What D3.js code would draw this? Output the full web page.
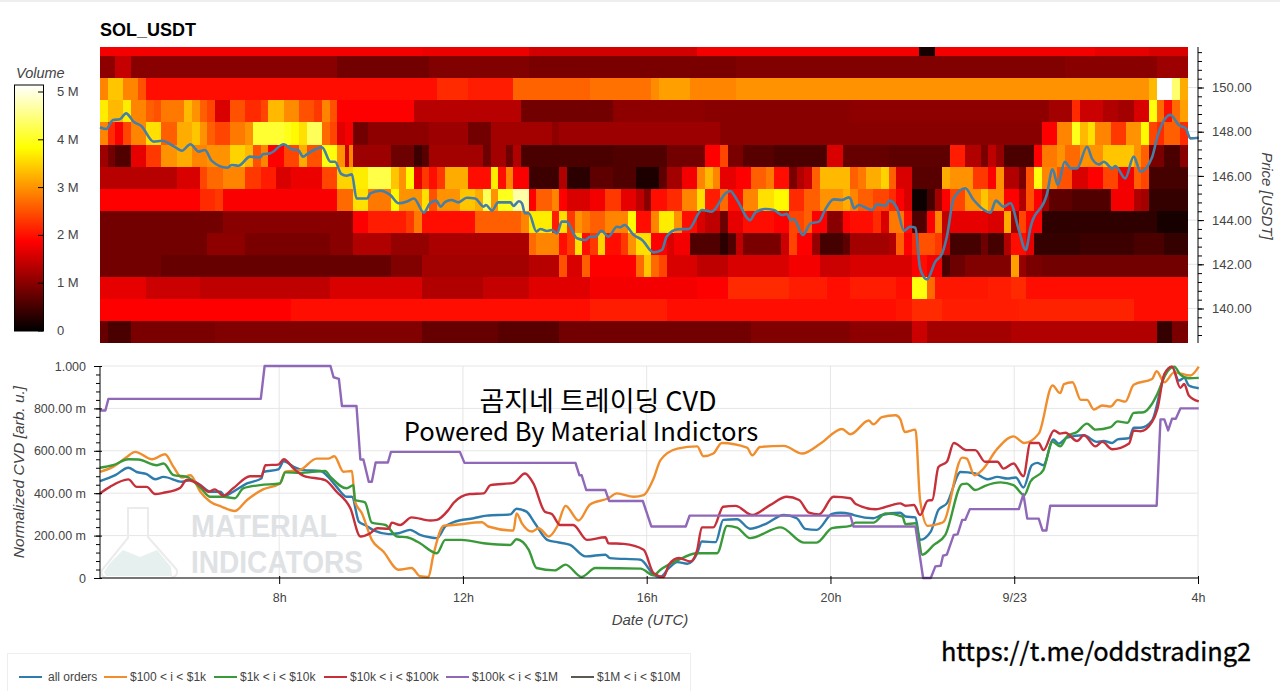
<!DOCTYPE html>
<html>
<head>
<meta charset="utf-8">
<script src="https://cdn.jsdelivr.net/npm/d3@7"></script>
<style>
  html, body { margin: 0; padding: 0; background: #fff; }
  svg { display: block; font-family: "Liberation Sans", sans-serif; }
  .tick text { fill: #444; font-size: 13px; }
  .overlay { fill: #000; font-family: "Noto Sans CJK KR", "Noto Sans", sans-serif; }
</style>
</head>
<body>
<svg id="chart" width="1280" height="691"></svg>
<script>
// volume per 1 USD price band, [first 10 minute bin, volume in M], top band first
const bandEdges = [151.85, 151.43, 150.42, 149.42, 148.42, 147.42, 146.42, 145.42, 144.42, 143.42, 142.42, 141.42, 140.42, 139.42, 138.45];
const band151 = [[0,1.8],[42,1.75],[56,1.55],[78,1.8],[107,0.15],[109,1.8],[130,1.7],[137,1.6]];
const band150 = [[0,1.05],[2,1.45],[4,1.0],[31,0.85],[43,0.95],[56,0.9],[83,0.95],[126,1.0],[138,1.15]];
const band149 = [[0,2.9],[1,3.4],[3,2.9],[5,2.5],[6,1.95],[44,2.2],[48,2.1],[54,2.65],[64,2.75],[72,2.95],[73,3.1],[77,2.9],[83,3.0],[137,3.3],[138,5.15],[140,4.4],[141,3.2]];
const band148 = [[0,3.7],[1,3.3],[3,3.7],[4,2.9],[6,2.6],[7,2.5],[8,2.8],[11,3.3],[12,3.0],[13,2.6],[14,2.4],[15,1.6],[17,2.5],[19,2.2],[21,2.4],[22,3.3],[24,2.95],[26,2.5],[28,2.3],[29,2.9],[30,2.5],[31,1.9],[41,1.35],[55,0.85],[67,1.05],[79,1.0],[98,1.05],[124,1.2],[127,2.2],[128,1.5],[131,1.3],[133,1.2],[135,1.6],[137,3.9],[138,2.7],[139,2.0],[140,2.7],[141,3.1]];
const band147 = [[0,2.9],[1,2.2],[2,1.85],[3,2.4],[4,2.9],[6,3.6],[8,2.6],[10,3.2],[12,3.4],[13,3.0],[14,2.6],[15,2.4],[17,2.8],[19,3.0],[20,4.1],[24,4.0],[25,3.8],[26,3.6],[27,4.3],[29,2.7],[30,2.4],[31,1.65],[32,1.8],[33,0.85],[35,1.05],[43,1.15],[48,0.85],[51,1.2],[59,1.05],[60,1.15],[81,1.0],[113,1.0],[123,1.9],[125,2.9],[127,4.0],[128,3.3],[129,3.6],[130,2.9],[132,2.3],[134,3.0],[136,3.8],[137,2.4],[138,2.2],[139,2.6],[141,2.2]];
const band146 = [[0,1.15],[1,0.85],[2,0.6],[4,1.7],[6,2.3],[8,3.0],[10,3.2],[12,2.9],[14,3.0],[17,3.5],[19,3.3],[20,2.5],[21,2.9],[22,1.9],[24,2.4],[26,3.2],[27,2.5],[29,3.9],[31,3.0],[32,1.5],[32.5,2.9],[33,1.15],[38,0.8],[41,0.45],[42,0.65],[43,1.2],[50,0.8],[51,1.2],[53,0.8],[54,1.3],[55,0.55],[67,0.6],[74,0.85],[79,1.9],[81,2.4],[82,0.9],[84,0.65],[88,0.55],[95,1.6],[97,0.75],[103,0.7],[111,2.1],[113,1.3],[115,0.9],[116,1.4],[117,1.1],[118,0.55],[122,1.9],[123,2.8],[125,3.0],[126,2.7],[128,3.0],[131,3.4],[135,3.0],[136,2.6],[137,0.9],[139,0.55],[141,1.0]];
const band145 = [[0,1.35],[10,1.6],[13,2.4],[14,2.7],[16,2.9],[19,2.3],[21,2.1],[23,1.6],[25,1.75],[29,2.4],[31,3.5],[33,3.7],[35,4.2],[38,3.4],[39,3.0],[40,3.8],[41,1.7],[42,2.3],[43,2.0],[44,2.3],[45,3.2],[48,2.0],[51,3.7],[52,1.95],[53,2.9],[54,1.85],[56,0.45],[60,1.3],[61,0.3],[64,0.7],[67,0.6],[70,0.2],[73,0.7],[74,1.2],[76,1.8],[78,2.9],[79,3.3],[80,2.9],[81,1.7],[83,1.9],[85,2.6],[87,2.8],[88,2.0],[90,0.9],[91,1.3],[92,1.5],[93,2.6],[94,3.3],[98,2.6],[99,2.8],[100,3.2],[102,3.5],[103,2.6],[104,1.6],[106,0.65],[110,3.2],[111,3.0],[114,2.3],[116,1.9],[117,3.0],[118,1.3],[120,0.9],[121,2.5],[122,3.9],[123,2.9],[125,2.5],[127,1.6],[129,1.9],[131,2.4],[133,1.8],[135,2.6],[136,2.4],[137,0.5]];
const band144 = [[0,1.9],[13,2.2],[15,2.3],[16,1.85],[31,2.7],[33,3.6],[35,2.8],[38,3.8],[39,3.0],[42,3.6],[43,2.5],[44,3.0],[47,3.4],[49,3.2],[50,4.3],[51,3.0],[52,4.0],[54,4.7],[56,1.9],[57,2.6],[59,2.9],[60,1.9],[61,1.6],[64,1.8],[66,2.3],[68,1.7],[70,1.4],[71,1.0],[72,2.0],[74,2.2],[76,2.9],[78,3.6],[79,2.1],[81,2.7],[82,2.0],[84,2.9],[86,3.6],[88,3.8],[90,2.2],[92,2.6],[94,3.0],[97,3.2],[98,2.9],[99,2.6],[101,2.4],[103,2.2],[104,1.9],[105,1.6],[106,0.1],[108,0.5],[109,1.2],[110,1.9],[111,2.4],[113,3.0],[115,3.4],[116,3.0],[118,1.9],[120,1.3],[121,2.5],[122,1.9],[123,1.2],[124,0.7],[127,0.6],[132,1.8],[135,1.3],[136,1.2],[137,0.4]];
const band143 = [[0,0.85],[16,1.0],[33,1.9],[35,2.1],[40,2.3],[41,2.8],[42,1.95],[49,2.6],[55,2.9],[56,3.7],[59,2.1],[60,3.6],[61,2.3],[62,3.0],[63,2.8],[64,2.6],[66,2.9],[69,3.8],[70,2.0],[72,2.9],[73,3.7],[75,3.0],[76,2.0],[78,1.6],[79,1.4],[81,0.8],[82,1.7],[84,2.0],[88,1.9],[90,2.4],[92,2.6],[93,1.9],[95,1.0],[97,1.9],[98,2.0],[101,2.2],[102,1.6],[103,2.8],[105,2.0],[106,0.6],[108,1.9],[109,2.9],[110,1.4],[111,1.7],[116,1.6],[118,3.2],[119,1.2],[120,2.4],[121,1.9],[123,0.35],[138,0.15]];
const band142 = [[0,0.85],[14,1.05],[19,0.9],[30,1.0],[33,1.3],[38,1.1],[43,1.25],[56,2.7],[57,2.9],[60,2.0],[61,2.3],[62,3.6],[63,2.0],[64,2.3],[65,3.5],[66,2.0],[68,2.3],[69,3.0],[70,3.6],[72,1.9],[74,1.6],[75,1.8],[77,0.6],[81,0.3],[82,0.6],[83,1.4],[84,0.9],[89,1.5],[90,2.4],[91,1.9],[93,1.1],[94,0.5],[97,0.7],[98,1.2],[103,1.3],[104,2.6],[105,1.9],[106,2.2],[107,2.5],[109,2.3],[110,1.5],[111,0.5],[115,0.8],[116,0.5],[118,1.3],[119,2.0],[121,1.7],[122,0.4],[128,0.45],[135,0.55],[139,0.4]];
const band141 = [[0,0.85],[8,0.75],[38,0.95],[42,1.2],[56,1.35],[60,2.5],[61,1.6],[63,2.6],[64,1.9],[70,2.7],[71,3.4],[72,2.7],[73,2.4],[74,1.6],[78,1.4],[82,1.6],[90,1.8],[94,1.5],[98,1.6],[106,1.9],[107,2.0],[108,1.8],[110,0.55],[111,0.8],[113,0.95],[119,3.1],[120,1.1],[121,0.9],[123,0.85]];
const band140 = [[0,1.7],[6,1.5],[13,1.4],[30,1.6],[42,1.3],[50,1.45],[56,1.65],[64,1.8],[78,1.9],[82,2.2],[90,2.1],[95,2.0],[98,2.1],[104,2.0],[106,3.9],[108,2.7],[109,2.05],[116,2.1],[119,2.2],[121,1.95]];
const band139 = [[0,1.9],[25,2.0],[42,1.95],[64,2.1],[74,1.95],[104,2.05],[106,2.2],[110,2.1],[120,2.15],[135,2.0]];
const band138 = [[0,0.75],[1,0.55],[4,0.9],[15,0.95],[42,0.75],[52,0.65],[60,0.85],[85,0.95],[98,1.05],[106,1.5],[108,1.2],[119,1.3],[138,0.4],[140,0.9]];
const volumeBands = [band151, band150, band149, band148, band147, band146, band145, band144, band143, band142, band141, band140, band139, band138];
const volumeBins = 142;
const volumeTicks = [0, 1, 2, 3, 4, 5];

// [10 minute bin, price]
const priceLine = [[0,148.20],[0.8,148.12],[1.7,148.53],[2.6,148.56],[3.4,148.83],[4.4,148.45],[5.4,148.26],[7,147.55],[8.1,147.59],[9.6,147.35],[10.7,147.14],[11.8,147.43],[12.9,147.10],[13.7,147.17],[14.6,146.68],[16.6,146.37],[17.2,146.49],[18.1,146.46],[19.6,146.87],[20.9,146.83],[21.3,146.99],[22.2,147.02],[24,147.43],[25.1,147.20],[25.9,147.17],[26.5,146.87],[27.2,147.02],[29,147.29],[30.1,146.64],[30.7,146.64],[31.5,146.09],[32.2,146.01],[32.9,146.07],[33.5,144.98],[34.9,144.98],[35.3,145.21],[36.6,145.33],[37.9,145.14],[39,144.76],[40.1,144.84],[41,144.98],[42.3,144.34],[43.1,144.76],[43.9,144.88],[44.5,144.61],[45.1,144.83],[45.9,144.91],[46.8,144.80],[47.9,145.01],[49,144.98],[50.1,144.61],[50.4,144.68],[51.2,144.43],[52,144.80],[53.6,144.80],[54,144.64],[54.7,144.85],[55.1,144.76],[55.5,144.31],[56,144.31],[57,143.48],[57.5,143.60],[58.4,143.51],[59,143.55],[59.7,143.40],[60.3,143.93],[60.9,143.93],[62.3,143.18],[63.4,143.10],[64,143.25],[64.7,143.25],[65.5,143.52],[66.4,143.25],[67.5,143.70],[67.9,143.67],[68.5,143.78],[69.7,143.33],[70.8,143.10],[72.3,142.54],[73.4,142.65],[74,143.25],[75.4,143.58],[76.9,143.60],[78.6,144.46],[79.9,144.38],[81.7,145.21],[82.3,145.32],[83.2,144.91],[84.9,144.00],[85.6,144.35],[86.9,144.50],[88,144.46],[89.1,144.23],[89.7,144.28],[90.2,144.00],[90.6,144.05],[91.8,143.33],[92.8,143.85],[93.9,143.93],[94.7,144.46],[95.8,144.94],[96.9,144.91],[97.8,145.03],[98,144.98],[98.5,144.53],[99.1,144.68],[100.8,144.46],[101.5,144.71],[102.6,144.65],[103.1,144.88],[104.1,144.53],[105,143.52],[105.8,143.70],[106.5,143.66],[107.1,141.82],[108,141.32],[109.1,142.12],[110,142.50],[110.6,143.25],[111.5,144.98],[113,145.44],[114.1,144.91],[116.3,144.34],[117,144.88],[118,144.61],[118.9,144.76],[120,143.55],[120.9,142.65],[121.5,143.63],[123.7,145.21],[124.4,146.30],[125.1,145.59],[126,146.64],[126.8,146.34],[127.6,146.34],[128.9,147.32],[129.6,146.76],[130.5,146.52],[131.1,146.64],[132.2,146.34],[132.6,146.45],[133.9,145.89],[135,146.87],[135.9,146.19],[137.4,146.84],[138.1,147.78],[139.8,148.76],[140.9,148.30],[141.8,148.15],[142.4,147.70],[143.5,147.73]];
const priceTicks = [140, 142, 144, 146, 148, 150];

// normalized CVD in milli units, [10 minute bin, value]
const cvdAll = [[0,457],[2,485],[3.7,520],[4.8,500],[6.1,490],[7.2,466],[8.3,477],[10.7,454],[11.8,462],[13.1,438],[14.4,407],[15.7,407],[16.3,388],[17.4,407],[19.2,446],[21.1,470],[21.3,500],[23.3,512],[24,551],[25.3,524],[26.6,509],[28.8,505],[29.8,477],[30.9,430],[32.2,383],[32.9,383],[33.8,266],[34.6,250],[35.9,222],[37.7,207],[39,211],[40.5,227],[41.8,203],[43.1,192],[44,188],[45.1,243],[46.2,264],[48.8,282],[50.5,294],[53.6,300],[54.4,327],[55.7,313],[56.8,258],[58.4,180],[59.7,169],[61.4,156],[63.4,102],[66,110],[66.6,94],[70.6,86],[72.3,16],[73.2,5],[74.3,47],[75.4,75],[76.7,67],[78,117],[78.6,172],[80.4,169],[81.4,274],[83.2,277],[84.9,232],[87.1,258],[89.3,297],[91,282],[92.1,232],[93.6,227],[95.6,302],[96.7,308],[98,302],[98.7,294],[101,282],[102.1,297],[104.5,308],[105.2,290],[106.5,286],[107.1,180],[108.5,219],[109.5,321],[110.6,352],[112.4,500],[114.3,493],[115.9,466],[117.2,477],[118.5,469],[119.6,474],[120.6,427],[121.7,532],[122.4,543],[123.2,532],[124.5,653],[125.2,634],[126.3,662],[128.5,673],[130.2,642],[131.1,646],[132.2,637],[132.9,654],[134.4,660],[135,709],[135.9,709],[137.4,743],[139,955],[140,997],[140.9,931],[141.6,944],[142.2,908],[143.5,895]];
const cvd100 = [[0,501],[1.7,524],[3.5,571],[4.6,595],[6.8,560],[8.5,584],[9.6,524],[10.7,474],[11.8,485],[13.1,407],[14.4,360],[15.9,336],[17.6,316],[19.2,368],[21.3,418],[23.5,446],[24.2,501],[26.1,509],[28.3,563],[29.8,563],[30.6,574],[31.8,501],[32.9,505],[33.3,360],[34.2,305],[35.5,180],[37,125],[39,39],[40.7,47],[41.8,8],[42.9,5],[43.5,102],[44.9,247],[46.2,250],[49.9,263],[50.7,243],[54,224],[54.4,305],[55.1,258],[56.4,219],[57.3,235],[58.6,196],[59.7,243],[60.8,340],[62.5,271],[64,347],[66.4,376],[67.5,399],[69.7,383],[71,391],[72.3,469],[73.2,556],[75.4,610],[78,621],[78.8,574],[80.1,587],[81.2,637],[84.5,615],[85.2,579],[86.2,618],[89.3,623],[91.7,587],[94.1,634],[96.9,703],[98,678],[100.4,743],[101,725],[102.1,759],[103.9,768],[104.5,751],[105.1,689],[106.5,700],[107.1,368],[108.1,246],[109.5,255],[110.2,266],[112.6,568],[113.2,563],[114.2,485],[115.2,509],[117.2,610],[119.3,668],[120.7,637],[122.6,681],[124.4,908],[125.4,872],[125.9,915],[127,923],[128.1,840],[128.9,840],[129.8,795],[130.9,814],[132,809],[132.9,840],[133.9,832],[135,912],[137.4,939],[138,975],[139,923],[140.3,970],[142.4,955],[143.5,997]];
const cvd1k = [[0,520],[1.7,532],[3.7,560],[5,559],[7.4,532],[8.3,540],[9.6,485],[11.3,477],[13.1,427],[14.4,383],[16.1,383],[17.6,376],[18.7,423],[20.9,438],[23.5,446],[24.2,498],[26.1,496],[29.4,505],[30.1,477],[32.2,423],[33.1,438],[33.3,368],[34.6,357],[35.5,261],[37.3,250],[38.8,196],[40.1,192],[41.4,172],[41.8,164],[44,117],[45.1,180],[47.2,180],[50.1,164],[53.6,156],[54.4,183],[56,133],[57,47],[59.4,36],[60.8,63],[62.9,5],[64.7,47],[70.6,44],[72.3,13],[73.2,39],[75.4,83],[78,117],[80.6,117],[81.9,246],[83.2,238],[84.9,188],[88.9,239],[91.9,167],[93.6,167],[95.6,235],[98,246],[98.7,261],[101,261],[102.6,305],[104.8,290],[105.2,254],[106.5,258],[107.4,110],[108.9,156],[110.4,203],[112.6,443],[113.2,445],[114.3,415],[115.6,435],[117.6,451],[119.3,438],[120.7,391],[121.5,454],[123.2,509],[124.4,642],[125.4,621],[126.3,668],[127.6,689],[128.9,728],[130,700],[132,712],[132.9,739],[134.2,732],[135,779],[136.3,782],[137.4,822],[138.1,869],[139.2,962],[140.3,997],[141.1,959],[142.2,942],[143.5,944]];
const cvd10k = [[0,399],[1.3,430],[3.7,465],[4.8,430],[6.1,430],[7.2,396],[8.3,402],[10.5,426],[11.3,462],[13.1,438],[14.2,407],[15,418],[16.1,388],[17.4,423],[19.6,480],[21.1,480],[21.6,532],[23.3,535],[24,560],[25.3,516],[26.6,482],[29.4,462],[30.9,407],[32.7,329],[34,196],[35.3,211],[36.2,235],[37.7,232],[38.1,261],[39.2,250],[40.7,286],[43.1,271],[44,274],[45.5,321],[46.2,355],[48.3,396],[50.1,399],[51,438],[54,449],[55.5,493],[56.6,446],[58.1,313],[59,302],[60.1,250],[61.8,250],[63.6,180],[66,192],[66.4,164],[68.4,161],[71,133],[72.3,23],[73.6,5],[74.3,63],[75.6,94],[77.1,78],[78,133],[78.6,239],[80.1,239],[81.4,336],[83,340],[85.2,297],[87.5,344],[89.7,383],[91.3,368],[92.6,308],[93.9,300],[95.8,383],[98,376],[98.7,349],[101.3,324],[103.4,344],[104.5,352],[105.2,341],[106.3,344],[107.1,297],[108.1,365],[108.7,368],[109.5,524],[110.6,548],[111.5,637],[113.2,603],[114.3,603],[115.6,548],[117.2,548],[118,516],[119.3,540],[120.6,480],[121.5,637],[122.6,637],[123.2,603],[124.6,696],[125.4,681],[126.1,685],[127.6,646],[128.5,673],[130,621],[130.9,642],[132.2,607],[134.4,634],[135,696],[135.9,692],[137.4,736],[138.1,798],[139,962],[140,997],[141.1,897],[141.6,915],[142.2,861],[143.5,833]];
const cvd100k = [[0,790],[0.7,790],[1.1,845],[21,845],[21.5,1000],[30.1,1000],[30.5,947],[31.2,939],[31.6,811],[33.5,811],[34,559],[34.4,559],[35.1,454],[35.5,454],[36,545],[37.6,545],[38,595],[47,595],[47.6,543],[62.1,543],[62.6,485],[62.9,485],[63.5,415],[66,415],[66.5,363],[70.9,363],[72,243],[76.5,243],[77,294],[98,294],[98.4,243],[106.5,243],[107.5,0],[108.5,0],[109.1,55],[109.8,58],[110.1,105],[110.6,110],[111.5,203],[112,206],[112.6,274],[113,274],[113.6,325],[120,325],[120.6,396],[121.1,280],[122.6,280],[123.1,224],[123.6,224],[124.1,341],[138,341],[138.5,748],[139,748],[139.5,696],[140,751],[140.5,751],[141.1,800],[143.5,800]];
const cvdTicks = [0, 200, 400, 600, 800, 1000];

const seriesLabels = ['all orders', '$100 < i < $1k', '$1k < i < $10k', '$10k < i < $100k', '$100k < i < $1M', '$1M < i < $10M'];
const seriesColors = ['#2e7cab', '#f08e2e', '#3a9a3a', '#c5303a', '#8f68b8', '#5c5a50'];
const seriesValues = [cvdAll, cvd100, cvd1k, cvd10k, cvd100k, []];

// 10 minute bins, first bin starts at 04:06
const firstHour = 4.1;
const hourOf = (bin) => firstHour + bin / 6;
const timeTicks = [8, 12, 16, 20, 24, 28];
const timeLabels = ['8h', '12h', '16h', '20h', '9/23', '4h'];

const hot = d3.scaleLinear()
    .domain([0, 1.88, 3.84, 5.15])
    .range(['#000000', '#ff0000', '#ffff00', '#ffffff'])
    .clamp(true);

const svg = d3.select('#chart');

const x = d3.scaleLinear().domain([firstHour, 28]).range([100, 1198]);
const yPrice = d3.scaleLinear().domain([150, 140]).range([87.5, 308.5]);
const yCvd = d3.scaleLinear().domain([0, 1000]).range([578, 366]);
const yVolume = d3.scaleLinear().domain([0, 5]).range([331, 92]);

// faint strip at the very top of the screenshot
svg.append('rect').attr('width', 1280).attr('height', 2).attr('fill', '#eeeeee');

const createHeatmap = () => {
    svg.append('text')
        .attr('x', 100).attr('y', 36)
        .attr('font-size', 18).attr('font-weight', 'bold')
        .text('SOL_USDT');

    // grid stubs between the end of the cells and the price axis
    svg.append('g').selectAll('line')
        .data(priceTicks)
        .enter()
        .append('line')
        .attr('x1', x(hourOf(volumeBins))).attr('x2', x(28))
        .attr('y1', (d) => yPrice(d)).attr('y2', (d) => yPrice(d))
        .attr('stroke', '#e5e5e5');

    // the reference is a slightly soft screenshot
    svg.append('filter').attr('id', 'soft')
        .append('feGaussianBlur').attr('stdDeviation', 0.5);
    let cellsGroup = svg.append('g').attr('filter', 'url(#soft)');

    volumeBands.forEach((band, i) => {
        // expand the runs to one value for each bin
        let cells = band.map((seg, j) => {
            let end = j + 1 < band.length ? band[j + 1][0] : volumeBins;
            return { start: seg[0], end: end, volume: seg[1] };
        });
        cellsGroup.append('g')
            .attr('shape-rendering', 'crispEdges')
            .selectAll('rect')
            .data(cells)
            .enter()
            .append('rect')
            .attr('x', (d) => x(hourOf(d.start)))
            .attr('width', (d) => x(hourOf(d.end)) - x(hourOf(d.start)) + 0.5)
            .attr('y', yPrice(bandEdges[i]))
            .attr('height', yPrice(bandEdges[i + 1]) - yPrice(bandEdges[i]) + 0.5)
            .attr('fill', (d) => hot(d.volume));
    });

    let line = d3.line()
        .x((d) => x(hourOf(d[0])))
        .y((d) => yPrice(d[1]))
        .curve(d3.curveMonotoneX);

    svg.append('path')
        .datum(priceLine)
        .attr('d', line)
        .attr('fill', 'none')
        .attr('stroke', '#447fa8')
        .attr('stroke-width', 2.6);

    // right hand price axis
    let priceAxis = svg.append('g')
        .attr('transform', 'translate(1198,0)')
        .call(d3.axisRight(yPrice)
            .tickValues(priceTicks)
            .tickFormat((d) => d.toFixed(2))
            .tickSize(6)
            .tickPadding(8));
    priceAxis.select('.domain').attr('d', 'M0,47V343');

    svg.append('g')
        .attr('transform', 'translate(1198,0)')
        .call(d3.axisRight(yPrice)
            .tickValues(d3.range(138.8, 151.8, 0.4))
            .tickFormat('')
            .tickSize(4))
        .select('.domain').remove();

    svg.append('text')
        .attr('transform', 'translate(1262,196) rotate(90)')
        .attr('text-anchor', 'middle')
        .attr('font-size', 15).attr('font-style', 'italic').attr('fill', '#444')
        .text('Price [USDT]');
};

const createColorbar = () => {
    let gradient = svg.append('defs').append('linearGradient')
        .attr('id', 'hot')
        .attr('x1', 0).attr('x2', 0).attr('y1', 1).attr('y2', 0);
    gradient.selectAll('stop')
        .data(hot.domain())
        .enter()
        .append('stop')
        .attr('offset', (d) => d / 5.15)
        .attr('stop-color', (d) => hot(d));

    svg.append('rect')
        .attr('x', 14.5).attr('y', 85)
        .attr('width', 29).attr('height', 246)
        .attr('fill', 'url(#hot)')
        .attr('stroke', '#000');

    svg.append('g').selectAll('line')
        .data(volumeTicks)
        .enter()
        .append('line')
        .attr('x1', 38).attr('x2', 43)
        .attr('y1', (d) => yVolume(d)).attr('y2', (d) => yVolume(d))
        .attr('stroke', '#000');

    svg.append('g').selectAll('text')
        .data(volumeTicks)
        .enter()
        .append('text')
        .attr('x', 57)
        .attr('y', (d) => yVolume(d) + 4)
        .attr('font-size', 13).attr('fill', '#444')
        .text((d) => d === 0 ? '0' : d + ' M');

    svg.append('text')
        .attr('x', 16).attr('y', 78)
        .attr('font-size', 14.5).attr('font-style', 'italic').attr('fill', '#444')
        .text('Volume');
};

const createWatermark = () => {
    let mark = svg.append('g');
    mark.append('path')
        .attr('d', 'M110,563L123,550L140,557L157,550L171,567L172,576L106,576L104,572Z')
        .attr('fill', '#e6f0ee');
    mark.append('path')
        .attr('d', 'M128,508H148V537L177,570Q178,577 170,578H107Q100,577 102,570L128,538Z')
        .attr('fill', 'none').attr('stroke', '#ebebeb').attr('stroke-width', 2);
    mark.append('text')
        .attr('x', 191).attr('y', 537)
        .attr('font-family', '"Liberation Sans Narrow", "Liberation Sans", sans-serif')
        .attr('font-weight', 'bold').attr('font-size', 32)
        .attr('textLength', 146).attr('lengthAdjust', 'spacingAndGlyphs')
        .attr('fill', '#dfe2e4')
        .text('MATERIAL');
    mark.append('text')
        .attr('x', 191).attr('y', 573)
        .attr('font-family', '"Liberation Sans Narrow", "Liberation Sans", sans-serif')
        .attr('font-weight', 'bold').attr('font-size', 32)
        .attr('textLength', 172).attr('lengthAdjust', 'spacingAndGlyphs')
        .attr('fill', '#dfe2e4')
        .text('INDICATORS');
};

const createCvd = () => {
    let grid = svg.append('g').attr('stroke', '#e6e6e6');
    grid.selectAll('.h')
        .data(cvdTicks)
        .enter()
        .append('line')
        .attr('x1', 100).attr('x2', 1198)
        .attr('y1', (d) => yCvd(d)).attr('y2', (d) => yCvd(d));
    grid.selectAll('.v')
        .data(timeTicks)
        .enter()
        .append('line')
        .attr('x1', (d) => x(d)).attr('x2', (d) => x(d))
        .attr('y1', 366).attr('y2', 578);

    createWatermark();

    let line = d3.line()
        .x((d) => x(hourOf(d[0])))
        .y((d) => yCvd(d[1]));
    let smoothLine = d3.line()
        .x((d) => x(hourOf(d[0])))
        .y((d) => yCvd(d[1]))
        .curve(d3.curveMonotoneX);

    // last series has no visible line, it only shows up in the legend
    svg.append('g').selectAll('path')
        .data(seriesValues.filter((s) => s.length > 0))
        .enter()
        .append('path')
        .attr('d', (d) => d === cvd100k ? line(d) : smoothLine(d))
        .attr('fill', 'none')
        .attr('stroke', (d, i) => seriesColors[i])
        .attr('stroke-width', 2.4)
        .attr('stroke-linejoin', 'round');

    let leftAxis = svg.append('g')
        .attr('transform', 'translate(100,0)')
        .call(d3.axisLeft(yCvd)
            .tickValues(cvdTicks)
            .tickFormat((d) => d === 1000 ? '1.000' : d === 0 ? '0' : d.toFixed(2) + ' m')
            .tickSize(6)
            .tickPadding(8));
    leftAxis.select('.domain').attr('d', 'M0,366V578');
    leftAxis.selectAll('.tick line').attr('x2', 2).attr('x1', -6);
    leftAxis.selectAll('.tick text').style('font-size', '12.5px');

    svg.append('g')
        .attr('transform', 'translate(100,0)')
        .call(d3.axisLeft(yCvd)
            .tickValues(d3.range(0, 1001, 40))
            .tickFormat('')
            .tickSize(4))
        .select('.domain').remove();

    let bottomAxis = svg.append('g')
        .attr('transform', 'translate(0,578)')
        .call(d3.axisBottom(x)
            .tickValues(timeTicks)
            .tickFormat((d, i) => timeLabels[i])
            .tickSize(6)
            .tickPadding(9));
    bottomAxis.select('.domain').attr('d', 'M100,0H1198');
    bottomAxis.selectAll('.tick line').attr('y1', -2);
    bottomAxis.selectAll('.tick text').style('font-size', '12.5px');

    svg.append('text')
        .attr('transform', 'translate(24,472) rotate(-90)')
        .attr('text-anchor', 'middle')
        .attr('font-size', 15.5).attr('font-style', 'italic').attr('fill', '#444')
        .text('Normalized CVD [arb. u.]');

    svg.append('text')
        .attr('x', 650).attr('y', 625)
        .attr('text-anchor', 'middle')
        .attr('font-size', 15).attr('font-style', 'italic').attr('fill', '#444')
        .text('Date (UTC)');
};

const createLegend = () => {
    svg.append('rect')
        .attr('x', 7.5).attr('y', 653.5)
        .attr('width', 683).attr('height', 40)
        .attr('fill', '#fff').attr('stroke', '#eeeeee');

    let lineStart = [19, 104, 214, 324, 446, 571];
    let legend = svg.append('g').selectAll('g')
        .data(seriesLabels)
        .enter()
        .append('g')
        .attr('transform', (d, i) => `translate(${lineStart[i]},677)`);
    legend.append('line')
        .attr('x2', 23)
        .attr('stroke', (d, i) => seriesColors[i])
        .attr('stroke-width', 2);
    legend.append('text')
        .attr('x', (d, i) => i === 0 ? 29 : 26).attr('y', 4)
        .attr('font-size', 12).attr('fill', '#444')
        .text((d) => d);
};

const createOverlayText = () => {
    svg.append('text').attr('class', 'overlay')
        .attr('x', 598).attr('y', 411)
        .attr('text-anchor', 'middle').attr('font-size', 27)
        .text('곰지네 트레이딩 CVD');
    svg.append('text').attr('class', 'overlay')
        .attr('x', 581).attr('y', 441)
        .attr('text-anchor', 'middle').attr('font-size', 25.6)
        .text('Powered By Material Indictors');
    svg.append('text').attr('class', 'overlay')
        .attr('x', 1096).attr('y', 661)
        .attr('text-anchor', 'middle').attr('font-size', 25.4)
        .attr('stroke', '#000').attr('stroke-width', 0.35)
        .text('https://t.me/oddstrading2');
};

createHeatmap();
createColorbar();
createCvd();
createLegend();
createOverlayText();
</script>
</body>
</html>
